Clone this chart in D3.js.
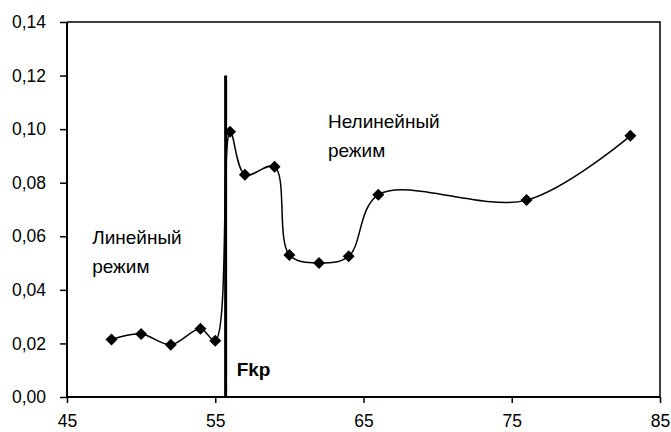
<!DOCTYPE html>
<html><head><meta charset="utf-8">
<script src="https://cdn.jsdelivr.net/npm/d3@7"></script>
<style>body{margin:0;background:#fff}svg{display:block}text{font-family:"Liberation Sans",Arial,sans-serif}</style>
</head><body>
<svg id="c" width="671" height="432"></svg>
<script>
const xValues = [48, 50, 52, 54, 55, 56, 57, 59, 60, 62, 64, 66, 76, 83];
const yValues = [0.0215, 0.0235, 0.0195, 0.0255, 0.021, 0.099, 0.083, 0.086, 0.053, 0.050, 0.0525, 0.0755, 0.0735, 0.0975];
const xTicks = [45, 55, 65, 75, 85];
const yTicks = [0, 0.02, 0.04, 0.06, 0.08, 0.10, 0.12, 0.14];
const fkr = 55.7, fkrTop = 0.12;
const labels = [
  {lines:["Линейный","режим"], x:46.7, y:0.057},
  {lines:["Нелинейный","режим"], x:62.6, y:0.1005}
];

const svg = d3.select("#c");
const L=67, R=660, T=22, B=397;
const x = d3.scaleLinear().domain([45,85]).range([L,R]);
const y = d3.scaleLinear().domain([0,0.14]).range([B,T]);
const fmt = d => d3.format(".2f")(d).replace(".", ",");

svg.append("path").attr("d",`M${L},${T}H${R}V${B}`).attr("fill","none").attr("stroke","#000").attr("stroke-width",1.5);

const yAx = svg.append("g").attr("transform",`translate(${L},0)`)
  .call(d3.axisLeft(y).tickValues(yTicks).tickFormat(fmt).tickSize(7).tickPadding(14));
const xAx = svg.append("g").attr("transform",`translate(0,${B})`)
  .call(d3.axisBottom(x).tickValues(xTicks).tickFormat(d3.format("d")).tickSize(6).tickPadding(12));
[yAx,xAx].forEach(g=>{
  g.attr("font-size",null).attr("font-family",null);
  g.select(".domain").attr("stroke-width",2).attr("d", g===yAx?`M0,${T}V${B}`:`M${L},0H${R}`);
  g.selectAll(".tick line").attr("stroke-width",1.5);
  g.selectAll("text").style("font-size","17.5px").attr("fill","#000").style("font-family","'Liberation Sans',Arial,sans-serif");
});

const data = xValues.map((v,i)=>[v,yValues[i]]);
svg.append("path").datum(data)
  .attr("d", d3.line().x(d=>x(d[0])).y(d=>y(d[1])).curve(d3.curveCatmullRom.alpha(0.5)))
  .attr("fill","none").attr("stroke","#000").attr("stroke-width",1.5);

svg.append("line").attr("x1",x(fkr)).attr("x2",x(fkr)).attr("y1",y(fkrTop)).attr("y2",B)
  .attr("stroke","#000").attr("stroke-width",3);

svg.selectAll(".m").data(data).join("path")
  .attr("transform",d=>`translate(${x(d[0])},${y(d[1])}) rotate(45)`)
  .attr("d", d3.symbol(d3.symbolSquare, 72)).attr("fill","#000");

labels.forEach(lb=>{
  const t = svg.append("text").attr("x",x(lb.x)).attr("y",y(lb.y)).style("font-size","19px");
  lb.lines.forEach((s,i)=>t.append("tspan").attr("x",x(lb.x)).attr("dy",i?29:0).text(s));
});
svg.append("text").attr("x",x(fkr)+11).attr("y",376).style("font-size","19px").attr("font-weight","bold").text("Fkp");
</script>
</body></html>
